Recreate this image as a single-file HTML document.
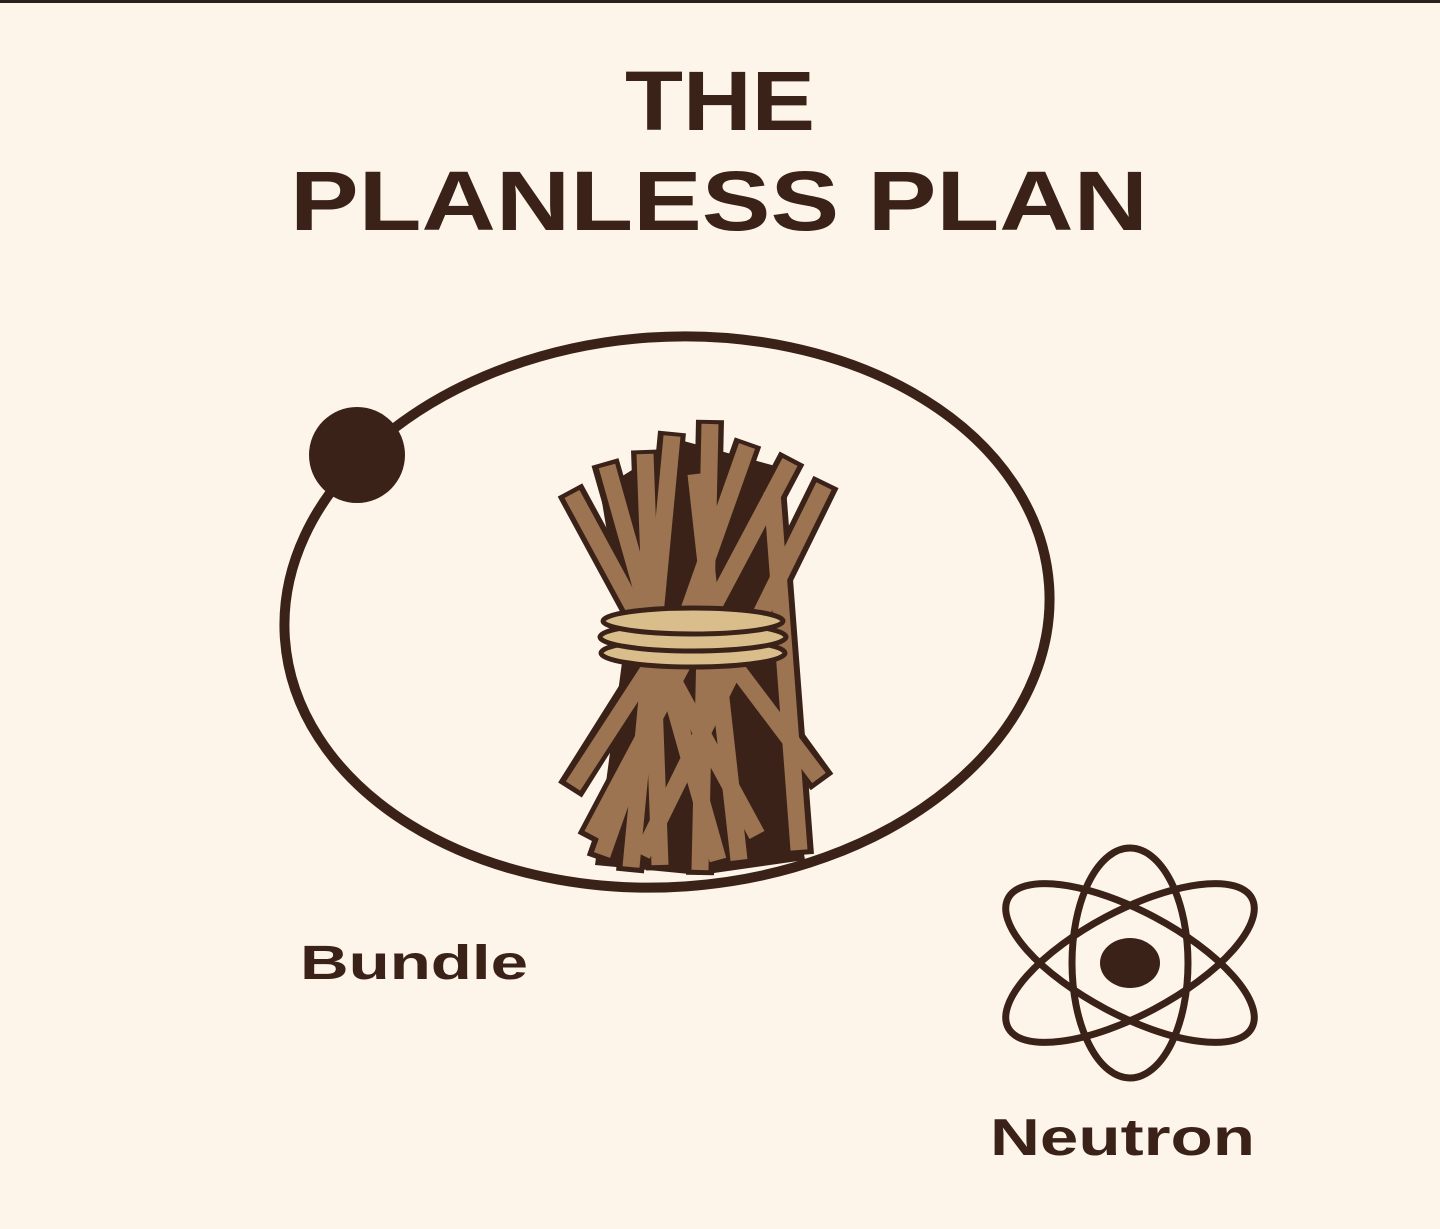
<!DOCTYPE html>
<html><head><meta charset="utf-8"><style>
html,body{margin:0;padding:0;background:#fdf5ea;}
svg{display:block}
</style></head><body>
<svg width="1440" height="1229" viewBox="0 0 1440 1229" xmlns="http://www.w3.org/2000/svg">
<rect width="1440" height="1229" fill="#fdf5ea"/>
<rect width="1440" height="3" fill="#2a211c"/>
<g font-family="Liberation Sans, sans-serif" font-weight="bold" fill="#3b2218">
<text x="720" y="130" text-anchor="middle" font-size="84" textLength="190" lengthAdjust="spacingAndGlyphs">THE</text>
<text x="719" y="230" text-anchor="middle" font-size="84" textLength="858" lengthAdjust="spacingAndGlyphs">PLANLESS PLAN</text>
<text x="300" y="979" font-size="48" textLength="228" lengthAdjust="spacingAndGlyphs">Bundle</text>
<text x="990" y="1155" font-size="52" textLength="265" lengthAdjust="spacingAndGlyphs">Neutron</text>
</g>
<ellipse cx="667" cy="612" rx="383" ry="275" transform="rotate(-4 667 612)" fill="none" stroke="#3b2218" stroke-width="10"/>
<circle cx="357" cy="455" r="48" fill="#3b2218"/>
<path d="M600 490 L680 440 L790 470 L770 640 L805 860 L700 875 L595 865 L625 640Z" fill="#3b2218"/>
<g stroke-linecap="butt">
<g stroke="#3b2218" stroke-width="28">
<line x1="655" y1="655" x2="570" y2="790"/>
<line x1="730" y1="655" x2="822" y2="782"/>
<line x1="570" y1="490" x2="760" y2="840"/>
<line x1="605" y1="462" x2="720" y2="865"/>
<line x1="645" y1="450" x2="660" y2="870"/>
<line x1="672" y1="432" x2="630" y2="872"/>
<line x1="710" y1="420" x2="700" y2="875"/>
<line x1="695" y1="470" x2="740" y2="865"/>
<line x1="748" y1="442" x2="600" y2="860"/>
<line x1="792" y1="458" x2="590" y2="840"/>
<line x1="772" y1="488" x2="800" y2="855"/>
<line x1="826" y1="482" x2="640" y2="860"/>
</g>
<g stroke="#9c7452" stroke-width="17">
<line x1="655" y1="660" x2="573" y2="786"/>
<line x1="730" y1="660" x2="819" y2="778"/>
<line x1="572" y1="494" x2="757" y2="835"/>
<line x1="607" y1="466" x2="718" y2="860"/>
<line x1="645" y1="454" x2="660" y2="865"/>
<line x1="672" y1="436" x2="631" y2="867"/>
<line x1="710" y1="424" x2="700" y2="870"/>
<line x1="696" y1="474" x2="739" y2="860"/>
<line x1="747" y1="446" x2="602" y2="855"/>
<line x1="790" y1="462" x2="592" y2="835"/>
<line x1="772" y1="492" x2="799" y2="850"/>
<line x1="824" y1="486" x2="642" y2="855"/>
</g>
</g>
<g fill="#d9be8c" stroke="#3b2218" stroke-width="5">
<ellipse cx="693" cy="653" rx="92" ry="14"/>
<ellipse cx="693" cy="637" rx="93" ry="14"/>
<ellipse cx="693" cy="621" rx="90" ry="13"/>
</g>
<g fill="none" stroke="#3b2218" stroke-width="7">
<ellipse cx="1130" cy="963" rx="58" ry="115"/>
<ellipse cx="1130" cy="963" rx="138" ry="52" transform="rotate(28 1130 963)"/>
<ellipse cx="1130" cy="963" rx="138" ry="52" transform="rotate(-28 1130 963)"/>
</g>
<ellipse cx="1130" cy="963" rx="30" ry="25" fill="#3b2218"/>
</svg>
</body></html>
